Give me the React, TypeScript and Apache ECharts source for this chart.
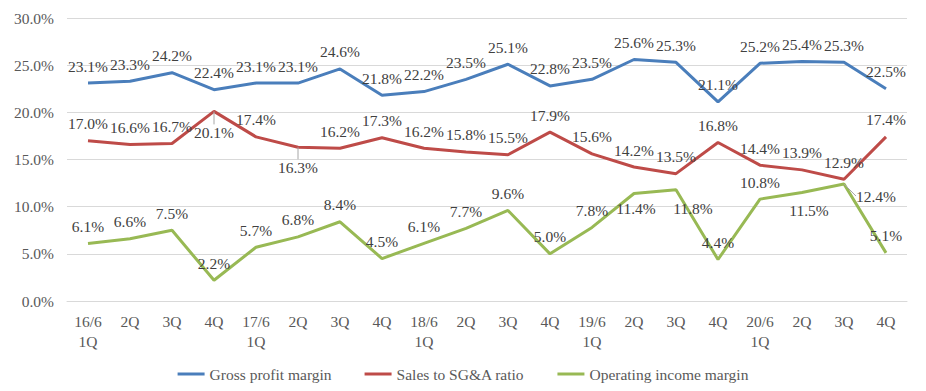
import React, { useEffect, useRef } from "react";
import * as echarts from "echarts";

const categories = [
  "16/6\n1Q", "2Q", "3Q", "4Q",
  "17/6\n1Q", "2Q", "3Q", "4Q",
  "18/6\n1Q", "2Q", "3Q", "4Q",
  "19/6\n1Q", "2Q", "3Q", "4Q",
  "20/6\n1Q", "2Q", "3Q", "4Q",
];

const grossProfitMargin = [23.1, 23.3, 24.2, 22.4, 23.1, 23.1, 24.6, 21.8, 22.2, 23.5, 25.1, 22.8, 23.5, 25.6, 25.3, 21.1, 25.2, 25.4, 25.3, 22.5];
const salesToSGA = [17.0, 16.6, 16.7, 20.1, 17.4, 16.3, 16.2, 17.3, 16.2, 15.8, 15.5, 17.9, 15.6, 14.2, 13.5, 16.8, 14.4, 13.9, 12.9, 17.4];
const operatingIncomeMargin = [6.1, 6.6, 7.5, 2.2, 5.7, 6.8, 8.4, 4.5, 6.1, 7.7, 9.6, 5.0, 7.8, 11.4, 11.8, 4.4, 10.8, 11.5, 12.4, 5.1];

const yTicks = { min: 0, max: 30, interval: 5 };

// label placement tweaks (styling only): dx, dy from default "top" placement, leader line
const labelTweaks: Record<number, Record<number, { dx: number; dy: number; line?: boolean }>> = {
  1: { 3: { dx: 0, dy: 38, line: true }, 5: { dx: 0, dy: 37, line: true } },
  2: { 13: { dx: 2, dy: 32 }, 14: { dx: 17, dy: 36 }, 17: { dx: 7, dy: 35 }, 18: { dx: 32, dy: 29, line: true } },
};

const FONT = "Liberation Serif";

export default function App() {
  const ref = useRef<HTMLDivElement>(null);
  useEffect(() => {
    if (!ref.current) return;
    const chart = echarts.init(ref.current, undefined, { renderer: "svg" });
    const mk = (name: string, values: number[], color: string, si: number) => ({
      name,
      type: "line",
      data: values.map((v, i) => {
        const t = labelTweaks[si] && labelTweaks[si][i];
        if (t && t.line) {
          return { value: v, labelLine: { show: true, lineStyle: { color: "#a6a6a6", width: 1 } } };
        }
        return v;
      }),
      symbol: "circle",
      symbolSize: 0.01,
      showSymbol: true,
      lineStyle: { color, width: 3 },
      itemStyle: { color },
      label: {
        show: true,
        position: "top",
        distance: 9,
        formatter: (p: any) => Number(p.value).toFixed(1) + "%",
        fontFamily: FONT,
        fontSize: 15.5,
        color: "#404040",
      },
      labelLine: { show: false, lineStyle: { color: "#a6a6a6", width: 1 } },
      labelLayout: (params: any) => {
        const t = labelTweaks[si] && labelTweaks[si][params.dataIndex];
        if (!t) return {};
        return { dx: t.dx, dy: t.dy };
      },
    });
    chart.setOption({
      animation: false,
      backgroundColor: "#ffffff",
      grid: { left: 67, right: 19, top: 18, bottom: 90 },
      xAxis: {
        type: "category",
        data: categories,
        boundaryGap: true,
        axisLine: { show: true, lineStyle: { color: "#d9d9d9", width: 1 } },
        axisTick: { show: false },
        axisLabel: {
          fontFamily: FONT,
          fontSize: 15.5,
          color: "#595959",
          lineHeight: 20,
          margin: 10,
          interval: 0,
        },
      },
      yAxis: {
        type: "value",
        min: yTicks.min,
        max: yTicks.max,
        interval: yTicks.interval,
        axisLine: { show: false },
        axisTick: { show: false },
        splitLine: { lineStyle: { color: "#d9d9d9", width: 1 } },
        axisLabel: {
          formatter: (v: number) => v.toFixed(1) + "%",
          fontFamily: FONT,
          fontSize: 15.5,
          color: "#595959",
          margin: 13,
        },
      },
      legend: {
        left: "center",
        top: 361,
        icon: "rect",
        itemWidth: 27,
        itemHeight: 3,
        itemGap: 33,
        textStyle: { fontFamily: FONT, fontSize: 15.5, color: "#595959" },
        data: ["Gross profit margin", "Sales to SG&A ratio", "Operating income margin"],
      },
      series: [
        mk("Gross profit margin", grossProfitMargin, "#4a7ebb", 0),
        mk("Sales to SG&A ratio", salesToSGA, "#be4b48", 1),
        mk("Operating income margin", operatingIncomeMargin, "#98b954", 2),
      ],
    });
    return () => chart.dispose();
  }, []);
  return <div ref={ref} style={{ width: 926, height: 391, position: "absolute", left: 0, top: 0 }} />;
}
